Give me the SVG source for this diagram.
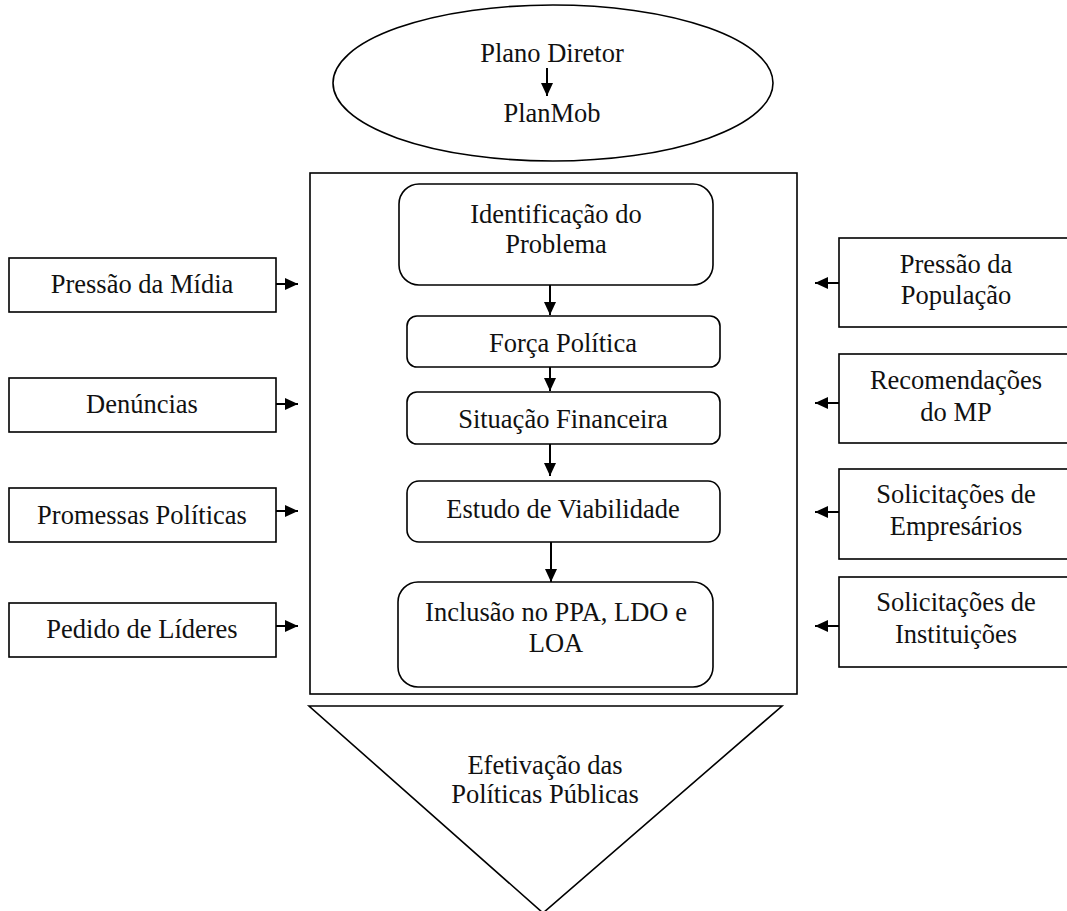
<svg xmlns="http://www.w3.org/2000/svg" width="1067" height="911" viewBox="0 0 1067 911">
<style>
.s{fill:#fff;stroke:#000;stroke-width:1.6}
.t{font-family:"Liberation Serif","Times New Roman",serif;font-size:26.5px;fill:#111;text-anchor:middle}
.c{stroke:#000;stroke-width:2;fill:none}
</style>
<defs>
<marker id="ah" markerUnits="userSpaceOnUse" markerWidth="14" markerHeight="14" refX="13" refY="7" orient="auto">
<path d="M0,1 L13,7 L0,13 z" fill="#000"/>
</marker>
</defs>
<rect width="1067" height="911" fill="#fff"/>
<g id="plano">
<ellipse class="s" cx="553" cy="83" rx="220" ry="78"/>
<text class="t" x="552" y="62">Plano Diretor</text>
<text class="t" x="552" y="122">PlanMob</text>
</g>
<g id="container"><rect class="s" x="310" y="173" width="487" height="521"/></g>
<g id="identificacao">
<rect class="s" x="399" y="184" width="314" height="101" rx="20"/>
<text class="t" x="556" y="223">Identificação do</text>
<text class="t" x="556" y="253">Problema</text>
</g>
<g id="forca">
<rect class="s" x="407" y="316" width="313" height="51" rx="10"/>
<text class="t" x="563" y="352">Força Política</text>
</g>
<g id="situacao">
<rect class="s" x="407" y="392" width="313" height="52" rx="10"/>
<text class="t" x="563" y="428">Situação Financeira</text>
</g>
<g id="estudo">
<rect class="s" x="407" y="481" width="313" height="61" rx="12"/>
<text class="t" x="563" y="518">Estudo de Viabilidade</text>
</g>
<g id="inclusao">
<rect class="s" x="398" y="582" width="315" height="105" rx="20"/>
<text class="t" x="556" y="621">Inclusão no PPA, LDO e</text>
<text class="t" x="556" y="652">LOA</text>
</g>
<g id="midia">
<rect class="s" x="9" y="258" width="267" height="54"/>
<text class="t" x="142" y="293">Pressão da Mídia</text>
</g>
<g id="denuncias">
<rect class="s" x="9" y="378" width="267" height="54"/>
<text class="t" x="142" y="413">Denúncias</text>
</g>
<g id="promessas">
<rect class="s" x="9" y="488" width="267" height="54"/>
<text class="t" x="142" y="524">Promessas Políticas</text>
</g>
<g id="pedido">
<rect class="s" x="9" y="603" width="267" height="54"/>
<text class="t" x="142" y="638">Pedido de Líderes</text>
</g>
<g id="populacao">
<rect class="s" x="839" y="238" width="230" height="89"/>
<text class="t" x="956" y="273">Pressão da</text>
<text class="t" x="956" y="304">População</text>
</g>
<g id="mp">
<rect class="s" x="839" y="354" width="230" height="89"/>
<text class="t" x="956" y="389">Recomendações</text>
<text class="t" x="956" y="421">do MP</text>
</g>
<g id="empresarios">
<rect class="s" x="839" y="469" width="230" height="90"/>
<text class="t" x="956" y="503">Solicitações de</text>
<text class="t" x="956" y="535">Empresários</text>
</g>
<g id="instituicoes">
<rect class="s" x="839" y="577" width="230" height="90"/>
<text class="t" x="956" y="611">Solicitações de</text>
<text class="t" x="956" y="643">Instituições</text>
</g>
<g id="efetivacao">
<polygon class="s" points="309,706 782,706 543,913"/>
<text class="t" x="545" y="774">Efetivação das</text>
<text class="t" x="545" y="803">Políticas Públicas</text>
</g>
<g id="connectors">
<line class="c" x1="547" y1="68" x2="547" y2="96" marker-end="url(#ah)"/>
<line class="c" x1="550" y1="285" x2="550" y2="315" marker-end="url(#ah)"/>
<line class="c" x1="550" y1="367" x2="550" y2="391" marker-end="url(#ah)"/>
<line class="c" x1="550" y1="444" x2="550" y2="476" marker-end="url(#ah)"/>
<line class="c" x1="551" y1="542" x2="551" y2="582" marker-end="url(#ah)"/>
<line class="c" x1="276" y1="284" x2="298" y2="284" marker-end="url(#ah)"/>
<line class="c" x1="276" y1="404" x2="298" y2="404" marker-end="url(#ah)"/>
<line class="c" x1="276" y1="511" x2="298" y2="511" marker-end="url(#ah)"/>
<line class="c" x1="276" y1="626" x2="298" y2="626" marker-end="url(#ah)"/>
<line class="c" x1="839" y1="283" x2="815" y2="283" marker-end="url(#ah)"/>
<line class="c" x1="839" y1="403" x2="815" y2="403" marker-end="url(#ah)"/>
<line class="c" x1="839" y1="512" x2="815" y2="512" marker-end="url(#ah)"/>
<line class="c" x1="839" y1="626" x2="815" y2="626" marker-end="url(#ah)"/>
</g>
</svg>
